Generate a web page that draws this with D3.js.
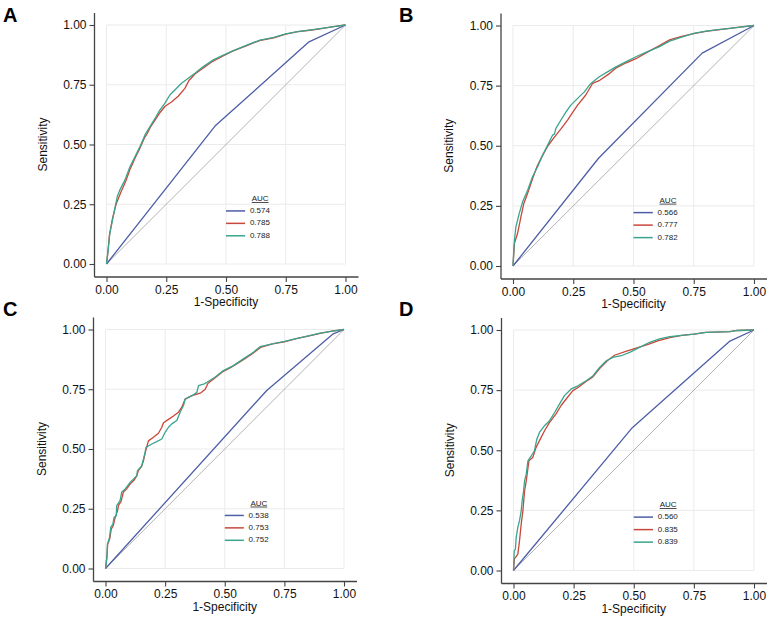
<!DOCTYPE html>
<html>
<head>
<meta charset="utf-8">
<script src="https://cdn.jsdelivr.net/npm/d3@7"></script>
<style>
  body { margin: 0; background: #fff; }
  text { font-family: "Liberation Sans", Arial, sans-serif; }
</style>
</head>
<body>
<script>
var width = 772;
var height = 623;

var panelLetters = ["A", "B", "C", "D"];
var ticks = [0, 0.25, 0.5, 0.75, 1];
var tickLabels = ["0.00", "0.25", "0.50", "0.75", "1.00"];
var seriesColors = ["#4c5ea7", "#c9473a", "#3aa48e"];

// AUC per panel: blue, red, green
var aucA = ["0.574", "0.785", "0.788"];
var aucB = ["0.566", "0.777", "0.782"];
var aucC = ["0.538", "0.753", "0.752"];
var aucD = ["0.560", "0.835", "0.839"];

// ROC points [1-specificity, sensitivity]
var blueA = [[0,0],[0.454,0.577],[0.845,0.928],[1,1]];
var redA = [[0,0],[0.006,0.05],[0.012,0.12],[0.025,0.19],[0.04,0.25],[0.05,0.275],[0.06,0.3],[0.08,0.345],
  [0.1,0.4],[0.12,0.445],[0.14,0.485],[0.16,0.53],[0.17,0.545],[0.185,0.575],[0.205,0.605],[0.225,0.635],
  [0.245,0.66],[0.272,0.678],[0.3,0.702],[0.328,0.735],[0.345,0.768],[0.37,0.795],[0.405,0.82],[0.44,0.845],
  [0.49,0.872],[0.53,0.892],[0.59,0.915],[0.64,0.935],[0.7,0.946],[0.75,0.962],[0.8,0.972],[0.85,0.978],
  [0.9,0.985],[0.95,0.993],[1,1]];
var greenA = [[0,0],[0.007,0.059],[0.014,0.128],[0.028,0.198],[0.045,0.282],[0.056,0.31],[0.077,0.351],
  [0.098,0.407],[0.119,0.449],[0.14,0.491],[0.161,0.54],[0.182,0.575],[0.203,0.609],[0.223,0.644],[0.244,0.672],
  [0.265,0.707],[0.286,0.728],[0.314,0.756],[0.342,0.777],[0.37,0.798],[0.405,0.826],[0.447,0.854],[0.489,0.874],
  [0.531,0.893],[0.587,0.916],[0.642,0.937],[0.7,0.948],[0.75,0.963],[0.8,0.972],[0.85,0.979],[0.9,0.986],
  [0.95,0.993],[1,1]];

var blueB = [[0,0],[0.354,0.447],[0.785,0.885],[1,1]];
var redB = [[0,0],[0.006,0.094],[0.019,0.136],[0.03,0.19],[0.033,0.205],[0.045,0.26],[0.06,0.3],[0.08,0.36],
  [0.1,0.415],[0.12,0.455],[0.145,0.5],[0.171,0.535],[0.199,0.57],[0.227,0.608],[0.247,0.638],[0.268,0.669],
  [0.302,0.711],[0.33,0.759],[0.36,0.772],[0.4,0.8],[0.43,0.825],[0.47,0.845],[0.51,0.862],[0.55,0.885],
  [0.6,0.912],[0.65,0.94],[0.7,0.955],[0.75,0.966],[0.8,0.976],[0.85,0.982],[0.9,0.988],[0.95,0.994],[1,1]];
var greenB = [[0,0],[0.003,0.06],[0.006,0.108],[0.012,0.163],[0.026,0.219],[0.04,0.267],[0.061,0.316],
  [0.081,0.371],[0.102,0.413],[0.123,0.461],[0.144,0.503],[0.164,0.544],[0.172,0.548],[0.178,0.572],[0.199,0.607],
  [0.22,0.641],[0.24,0.669],[0.268,0.697],[0.296,0.724],[0.323,0.759],[0.358,0.787],[0.392,0.807],[0.427,0.828],
  [0.468,0.849],[0.51,0.87],[0.551,0.888],[0.606,0.911],[0.65,0.935],[0.7,0.952],[0.75,0.967],[0.8,0.977],
  [0.85,0.983],[0.9,0.988],[0.95,0.994],[1,1]];

var blueC = [[0,0],[0.676,0.745],[0.955,0.982],[1,1]];
var redC = [[0,0],[0.006,0.05],[0.009,0.1],[0.018,0.125],[0.024,0.165],[0.033,0.18],[0.038,0.205],[0.05,0.24],
  [0.055,0.265],[0.065,0.28],[0.075,0.32],[0.09,0.335],[0.105,0.355],[0.12,0.37],[0.13,0.385],[0.138,0.41],
  [0.15,0.425],[0.159,0.45],[0.17,0.499],[0.18,0.534],[0.201,0.549],[0.222,0.566],[0.236,0.591],[0.243,0.61],
  [0.264,0.624],[0.285,0.638],[0.306,0.654],[0.32,0.675],[0.334,0.709],[0.36,0.722],[0.4,0.735],[0.418,0.75],
  [0.43,0.775],[0.46,0.798],[0.49,0.822],[0.52,0.838],[0.54,0.85],[0.58,0.875],[0.62,0.902],[0.65,0.925],
  [0.7,0.94],[0.75,0.948],[0.8,0.962],[0.85,0.972],[0.9,0.984],[0.95,0.993],[1,1]];
var greenC = [[0,0],[0.006,0.046],[0.008,0.102],[0.017,0.13],[0.022,0.172],[0.031,0.186],[0.036,0.214],
  [0.045,0.221],[0.047,0.263],[0.061,0.284],[0.068,0.32],[0.082,0.332],[0.103,0.36],[0.117,0.374],[0.131,0.388],
  [0.134,0.409],[0.152,0.429],[0.159,0.458],[0.166,0.486],[0.17,0.507],[0.194,0.521],[0.215,0.531],[0.236,0.542],
  [0.25,0.57],[0.264,0.591],[0.278,0.605],[0.299,0.619],[0.313,0.654],[0.327,0.682],[0.334,0.709],[0.362,0.723],
  [0.383,0.737],[0.39,0.765],[0.411,0.771],[0.425,0.779],[0.459,0.8],[0.494,0.828],[0.536,0.849],[0.578,0.877],
  [0.62,0.905],[0.648,0.928],[0.7,0.94],[0.75,0.95],[0.8,0.962],[0.85,0.973],[0.9,0.985],[0.95,0.993],[1,1]];

var blueD = [[0,0],[0.494,0.594],[0.9,0.954],[1,1]];
var redD = [[0,0],[0.004,0.05],[0.008,0.054],[0.018,0.068],[0.025,0.123],[0.032,0.193],[0.039,0.248],
  [0.046,0.331],[0.053,0.373],[0.064,0.456],[0.08,0.47],[0.094,0.512],[0.108,0.54],[0.129,0.581],[0.15,0.616],
  [0.177,0.651],[0.198,0.686],[0.219,0.713],[0.247,0.748],[0.27,0.762],[0.3,0.785],[0.33,0.805],[0.358,0.84],
  [0.39,0.872],[0.42,0.895],[0.47,0.912],[0.52,0.928],[0.56,0.94],[0.6,0.955],[0.65,0.968],[0.7,0.978],
  [0.75,0.983],[0.8,0.99],[0.9,0.993],[0.93,0.998],[1,1]];
var greenD = [[0,0],[0.003,0.082],[0.008,0.089],[0.011,0.137],[0.018,0.179],[0.025,0.207],[0.032,0.248],
  [0.036,0.29],[0.042,0.331],[0.046,0.373],[0.053,0.401],[0.06,0.456],[0.074,0.477],[0.087,0.498],[0.097,0.546],
  [0.108,0.574],[0.129,0.602],[0.15,0.623],[0.171,0.657],[0.191,0.692],[0.212,0.727],[0.24,0.755],[0.268,0.768],
  [0.302,0.789],[0.33,0.809],[0.358,0.844],[0.386,0.872],[0.413,0.886],[0.448,0.893],[0.483,0.907],[0.524,0.928],
  [0.566,0.949],[0.607,0.963],[0.65,0.972],[0.7,0.978],[0.75,0.983],[0.8,0.99],[0.9,0.993],[0.93,0.998],[1,1]];

var aucs = [aucA, aucB, aucC, aucD];
var curves = [[blueA, redA, greenA], [blueB, redB, greenB], [blueC, redC, greenC], [blueD, redD, greenD]];

// pixel box of each panel's data range
var boxes = [
  {x0: 106.5, x1: 345.5, y0: 264, y1: 25, lx: 3, ly: 22},
  {x0: 513, x1: 754, y0: 266, y1: 25.5, lx: 399, ly: 22},
  {x0: 105.5, x1: 344, y0: 568.5, y1: 329.5, lx: 3, ly: 316},
  {x0: 513.5, x1: 754, y0: 570.5, y1: 330, lx: 399, ly: 316}
];

var svg = d3.select("body")
  .append("svg")
  .attr("width", width)
  .attr("height", height);

svg.append("rect")
  .attr("width", width)
  .attr("height", height)
  .attr("fill", "#fff");

boxes.forEach(function(b, i) {
  drawPanel(b, curves[i], aucs[i], panelLetters[i]);
});

function drawPanel(b, series, auc, letter) {
  var x = d3.scaleLinear().domain([0, 1]).range([b.x0, b.x1]);
  var y = d3.scaleLinear().domain([0, 1]).range([b.y0, b.y1]);
  var g = svg.append("g");

  // grid
  g.selectAll(".vg").data(ticks).enter().append("line")
    .attr("x1", d => x(d)).attr("x2", d => x(d))
    .attr("y1", y(0)).attr("y2", y(1))
    .attr("stroke", "#ebebeb").attr("stroke-width", 1);
  g.selectAll(".hg").data(ticks).enter().append("line")
    .attr("y1", d => y(d)).attr("y2", d => y(d))
    .attr("x1", x(0)).attr("x2", x(1))
    .attr("stroke", "#ebebeb").attr("stroke-width", 1);

  // axes, offset from the data range
  var axX = b.x0 - 12;
  var axY = b.y0 + 13;

  var xAxis = d3.axisBottom(x).tickValues(ticks).tickSize(5).tickPadding(3)
    .tickFormat((d, i) => tickLabels[i]);
  var gx = g.append("g").attr("transform", "translate(0," + axY + ")").call(xAxis);
  gx.select(".domain").attr("d", "M" + (b.x0 - 12) + ",0H" + (b.x1 + 13));

  var yAxis = d3.axisLeft(y).tickValues(ticks).tickSize(5).tickPadding(3)
    .tickFormat((d, i) => tickLabels[i]);
  var gy = g.append("g").attr("transform", "translate(" + axX + ",0)").call(yAxis);
  gy.select(".domain").attr("d", "M0," + (b.y1 - 12) + "V" + (b.y0 + 13));

  [gx, gy].forEach(function(ax) {
    ax.select(".domain").attr("stroke", "#444").attr("stroke-width", 1.3);
    ax.selectAll(".tick line").attr("stroke", "#444").attr("stroke-width", 1.1);
    ax.selectAll(".tick text").attr("fill", "#111").attr("font-size", 12)
      .attr("font-family", "Liberation Sans, Arial, sans-serif");
  });

  g.append("text")
    .attr("x", (b.x0 + b.x1) / 2)
    .attr("y", axY + 29)
    .attr("text-anchor", "middle")
    .attr("font-size", 12)
    .attr("fill", "#111")
    .text("1-Specificity");

  g.append("text")
    .attr("transform", "translate(" + (axX - 48) + "," + ((b.y0 + b.y1) / 2) + ")rotate(-90)")
    .attr("text-anchor", "middle")
    .attr("font-size", 12)
    .attr("fill", "#111")
    .text("Sensitivity");

  // chance line
  g.append("line")
    .attr("x1", x(0)).attr("y1", y(0))
    .attr("x2", x(1)).attr("y2", y(1))
    .attr("stroke", "#b3b3b3").attr("stroke-width", 1);

  var line = d3.line().x(d => x(d[0])).y(d => y(d[1]));

  series.forEach(function(pts, k) {
    g.append("path")
      .datum(pts)
      .attr("d", line)
      .attr("fill", "none")
      .attr("stroke", seriesColors[k])
      .attr("stroke-width", 1.3)
      .attr("stroke-linejoin", "round");
  });

  // legend
  g.append("text")
    .attr("x", x(0.643)).attr("y", y(0.272))
    .attr("text-anchor", "middle")
    .attr("dominant-baseline", "middle")
    .attr("font-size", 8)
    .attr("fill", "#222")
    .attr("text-decoration", "underline")
    .text("AUC");

  var rows = [0.222, 0.17, 0.118];
  auc.forEach(function(v, k) {
    g.append("line")
      .attr("x1", x(0.5)).attr("x2", x(0.58))
      .attr("y1", y(rows[k])).attr("y2", y(rows[k]))
      .attr("stroke", seriesColors[k]).attr("stroke-width", 1.5);
    g.append("text")
      .attr("x", x(0.6)).attr("y", y(rows[k]))
      .attr("dominant-baseline", "middle")
      .attr("font-size", 8)
      .attr("fill", "#222")
      .text(v);
  });

  svg.append("text")
    .attr("x", b.lx).attr("y", b.ly)
    .attr("font-size", 20)
    .attr("font-weight", "bold")
    .attr("fill", "#000")
    .text(letter);
}
</script>
</body>
</html>
